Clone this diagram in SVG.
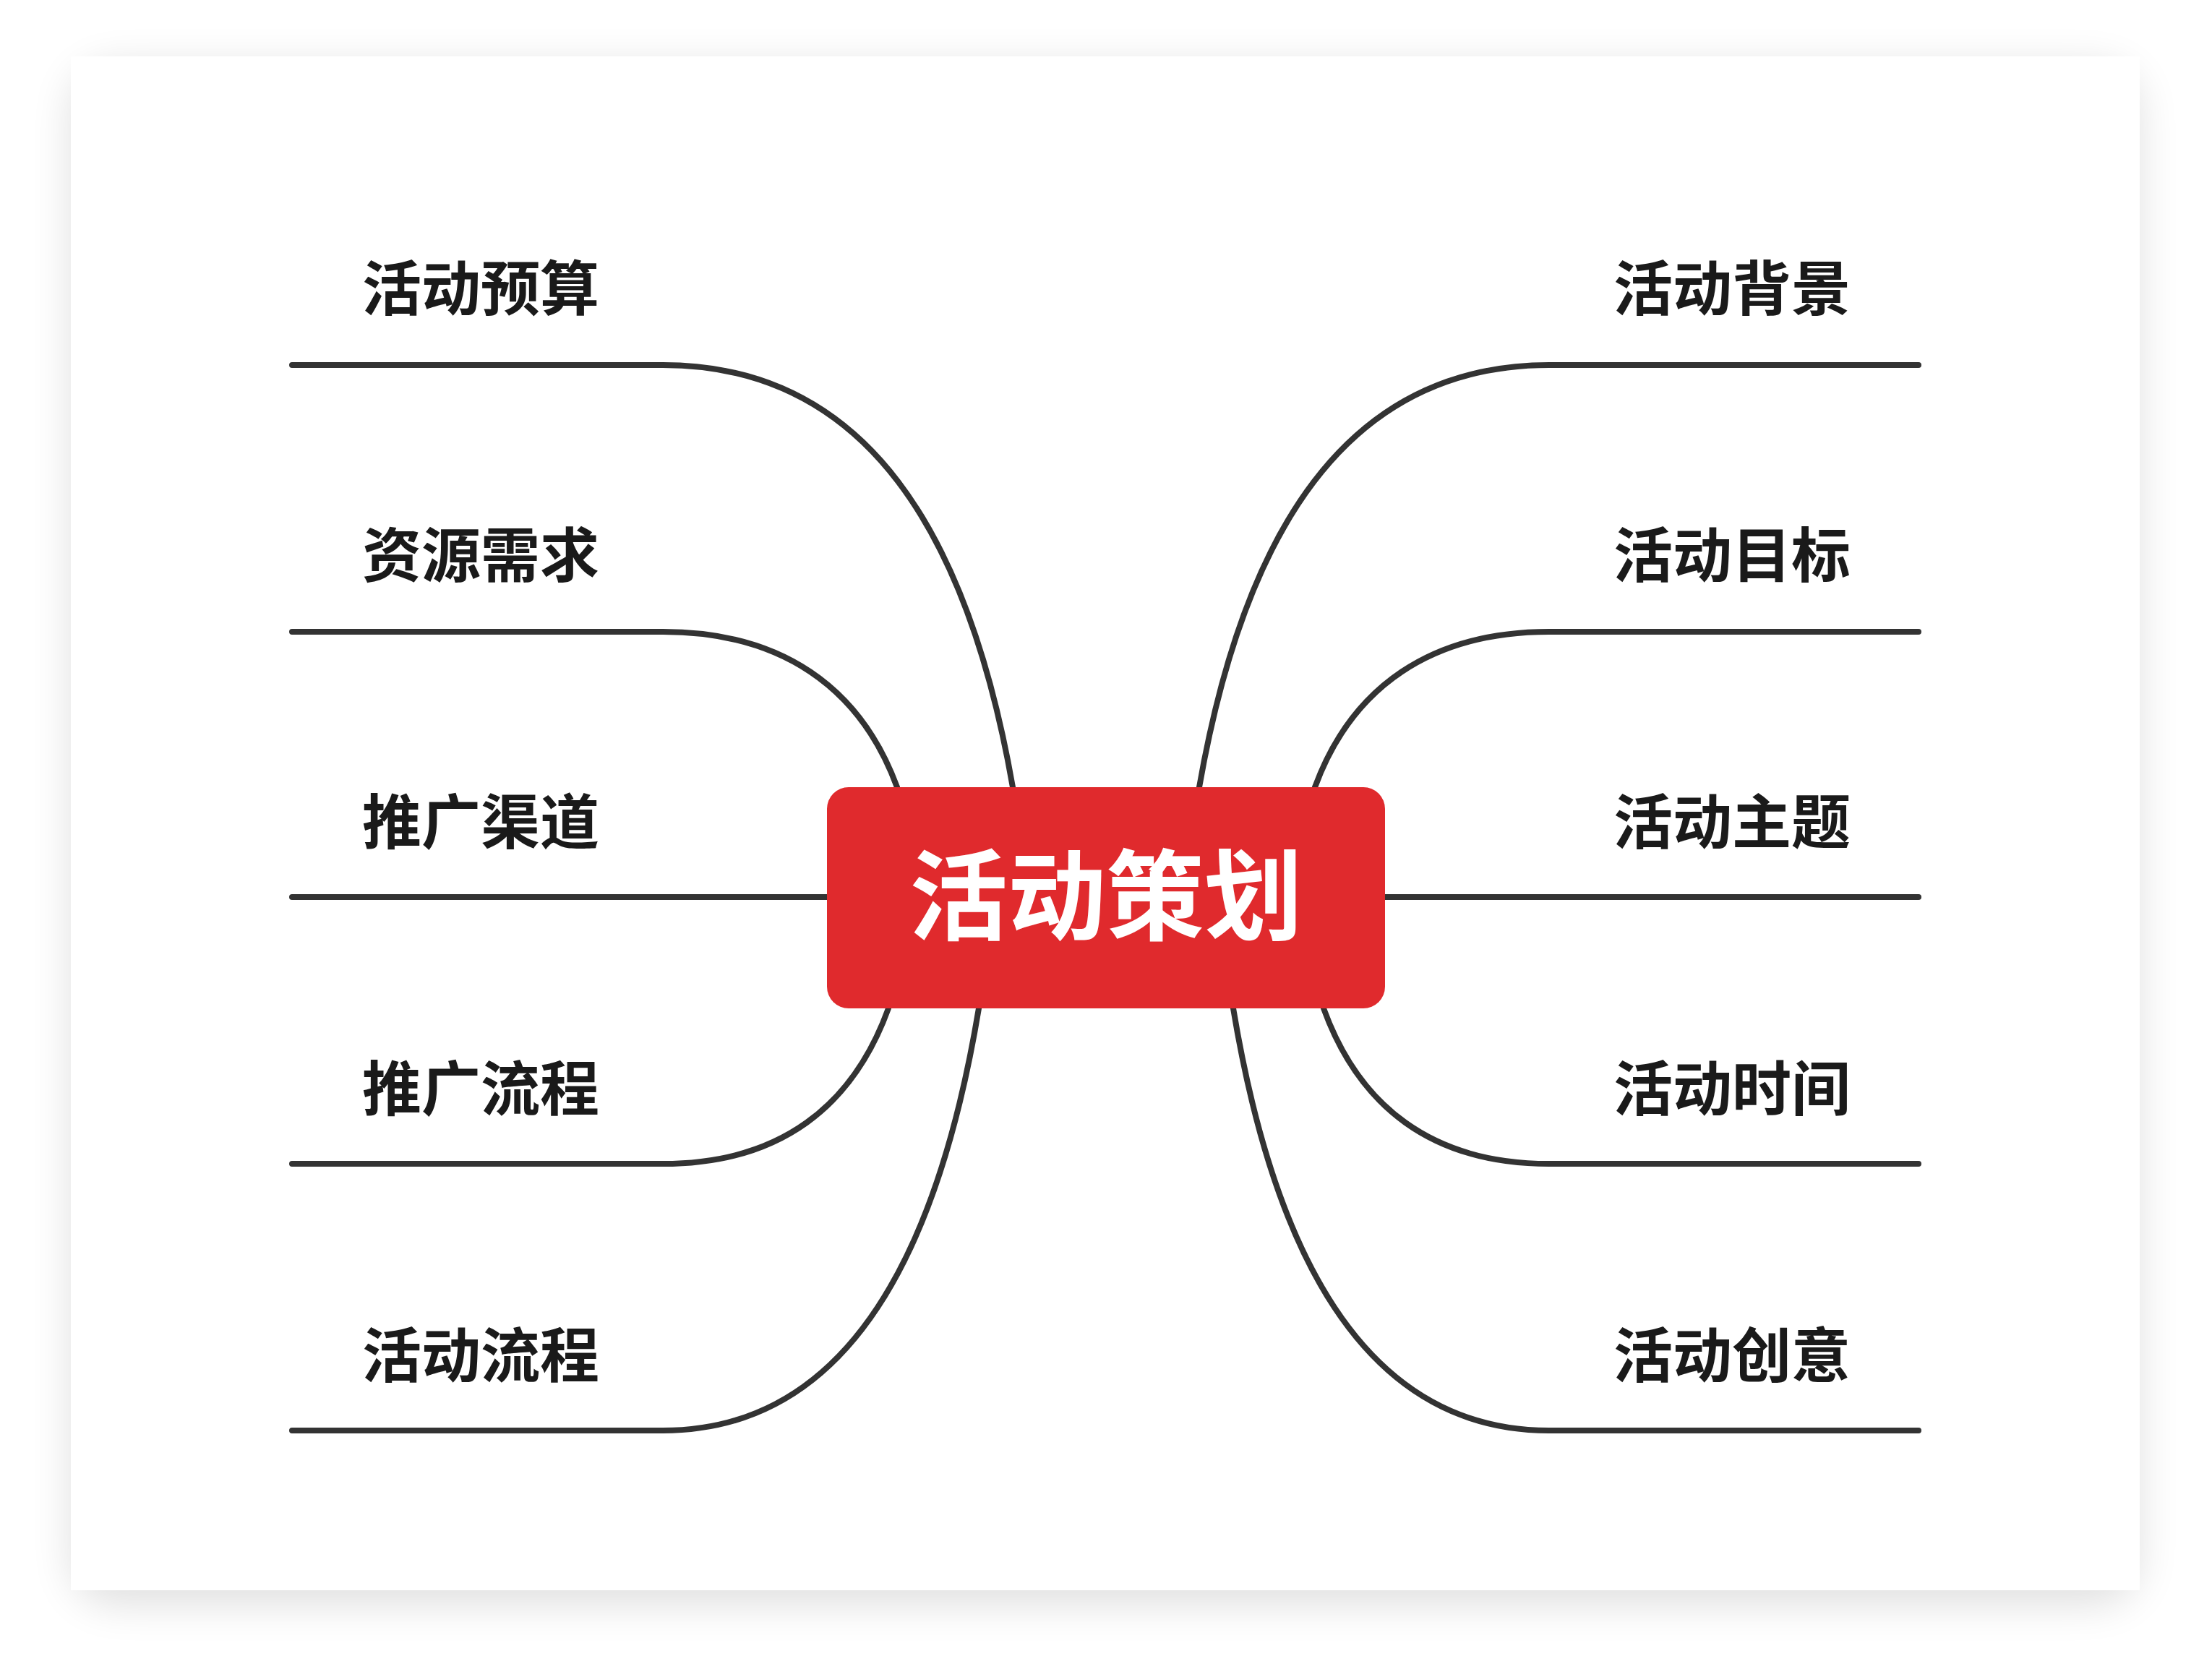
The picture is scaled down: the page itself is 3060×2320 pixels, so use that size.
<svg xmlns="http://www.w3.org/2000/svg" width="3060" height="2320" viewBox="0 0 3060 2320">
<defs>
<filter id="sh" x="-10%" y="-10%" width="120%" height="120%"><feGaussianBlur stdDeviation="28"/></filter>
<style>
.c{fill:none;stroke:#333;stroke-width:8;stroke-linecap:round}
.t{font-family:"Noto Sans CJK SC",sans-serif;font-weight:bold;font-size:82px;fill:#1a1a1a}
.r{text-anchor:end}
</style>
</defs>
<rect width="3060" height="2320" fill="#fff"/>
<rect x="98" y="90" width="2862" height="2130" rx="60" fill="#000" opacity="0.12" filter="url(#sh)"/>
<rect x="98" y="78" width="2862" height="2122" fill="#fff"/>
<g id="connectors">
<path class="c" d="M404,505 H917 C1200,505 1340,740 1401,1089"/>
<path class="c" d="M404,874 H917 C1080,874 1190,950 1241,1089"/>
<path class="c" d="M404,1241 H1144"/>
<path class="c" d="M404,1610 H917 C1080,1610 1180,1530 1229,1395"/>
<path class="c" d="M404,1979 H917 C1180,1979 1300,1720 1354,1395"/>
<path class="c" d="M2654,505 H2143 C1860,505 1720,740 1659,1089"/>
<path class="c" d="M2654,874 H2143 C1980,874 1870,950 1819,1089"/>
<path class="c" d="M2654,1241 H1916"/>
<path class="c" d="M2654,1610 H2143 C1980,1610 1880,1530 1831,1395"/>
<path class="c" d="M2654,1979 H2143 C1880,1979 1760,1720 1706,1395"/>
</g>
<g id="center"><rect x="1144" y="1089" width="772" height="306" rx="30" fill="#E02A2D"/>
<text x="1530" y="1290" text-anchor="middle" font-family="Noto Sans CJK SC,sans-serif" font-weight="bold" font-size="136" fill="#fff">活动策划</text></g>
<g id="n1"><text class="t" x="501" y="429">活动预算</text></g>
<g id="n2"><text class="t" x="501" y="798">资源需求</text></g>
<g id="n3"><text class="t" x="501" y="1167">推广渠道</text></g>
<g id="n4"><text class="t" x="501" y="1536">推广流程</text></g>
<g id="n5"><text class="t" x="501" y="1905">活动流程</text></g>
<g id="n6"><text class="t r" x="2560" y="429">活动背景</text></g>
<g id="n7"><text class="t r" x="2560" y="798">活动目标</text></g>
<g id="n8"><text class="t r" x="2560" y="1167">活动主题</text></g>
<g id="n9"><text class="t r" x="2560" y="1536">活动时间</text></g>
<g id="n10"><text class="t r" x="2560" y="1905">活动创意</text></g>
</svg>
